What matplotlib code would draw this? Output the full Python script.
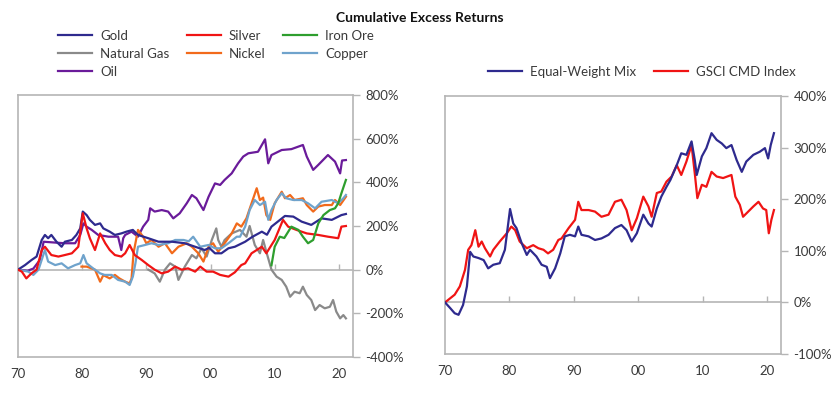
import matplotlib
matplotlib.use("Agg")
import matplotlib.pyplot as plt

# ---- data ----
gold_x = [1970.0, 1971.1, 1972.1, 1972.9, 1973.7, 1974.2, 1974.7, 1975.2, 1976.0, 1976.8, 1977.3, 1978.4,
          1979.1, 1979.7, 1980.1, 1980.7, 1981.2, 1982.0, 1982.8, 1983.3, 1984.3, 1985.1, 1986.1, 1987.0,
          1987.9, 1988.7, 1990.3, 1991.9, 1994.0, 1996.0, 1997.6, 1999.1, 1999.8, 2000.7, 2001.7, 2002.8,
          2003.8, 2005.4, 2006.5, 2008.0, 2008.8, 2009.5, 2011.6, 2012.9, 2014.2, 2015.7, 2017.3, 2018.9,
          2020.4, 2021.1]
gold_y = [0, 21, 44, 60, 136, 159, 144, 159, 128, 105, 128, 136,
          159, 189, 266, 250, 228, 205, 212, 189, 174, 159, 166, 175,
          182, 159, 144, 128, 128, 121, 105, 90, 100, 75, 75, 98,
          105, 128, 150, 174, 160, 197, 246, 243, 220, 205, 235, 228,
          250, 255]

silver_x = [1970.0, 1970.6, 1971.3, 1972.1, 1972.9, 1973.7, 1974.2, 1975.2, 1976.3, 1977.3, 1978.4, 1979.4,
            1980.1, 1980.7, 1981.2, 1982.0, 1982.8, 1983.6, 1984.3, 1985.1, 1986.1, 1986.7, 1987.4, 1988.2,
            1989.3, 1990.3, 1991.3, 1992.4, 1993.4, 1994.5, 1995.5, 1996.5, 1997.6, 1998.4, 1999.4, 2000.4,
            2001.5, 2002.8, 2003.8, 2004.8, 2005.4, 2006.4, 2008.0, 2008.7, 2010.0, 2011.3, 2012.1, 2013.4,
            2015.0, 2016.8, 2018.3, 2019.9, 2020.4, 2021.1]
silver_y = [0, -9, -40, -17, 0, 90, 105, 67, 60, 67, 75, 105,
            258, 189, 144, 90, 166, 121, 90, 67, 60, 75, 113, 67,
            44, 21, 0, -17, -9, 14, 0, 6, -9, 14, -9, -9,
            -24, -32, -12, 21, 29, 75, 105, 75, 136, 228, 197, 182,
            166, 159, 151, 144, 197, 200]

iron_x = [2009.5, 2010.0, 2010.8, 2011.5, 2012.6, 2013.7, 2014.4, 2015.2, 2016.0, 2016.8, 2017.6, 2018.6,
          2019.4, 2019.9, 2020.4, 2021.1]
iron_y = [20, 105, 151, 145, 197, 182, 151, 121, 136, 212, 250, 273,
          281, 304, 350, 411]

gas_x = [1990.3, 1991.3, 1992.1, 1992.9, 1993.7, 1994.5, 1995.0, 1996.0, 1997.1, 1997.8, 1998.6, 1999.4,
         2000.2, 2000.9, 2001.2, 2001.7, 2002.2, 2003.3, 2004.6, 2005.6, 2006.1, 2006.9, 2007.7, 2008.2,
         2008.7, 2009.5, 2010.3, 2011.1, 2011.8, 2012.4, 2013.1, 2013.9, 2014.4, 2015.0, 2015.7, 2016.3,
         2017.0, 2017.8, 2018.6, 2019.1, 2019.6, 2020.2, 2020.7, 2021.1]
gas_y = [0, -17, -55, 0, 29, 14, -47, 14, 67, 52, 98, 60,
         136, 189, 136, 105, 136, 166, 182, 151, 200, 113, 75, 136,
         82, 0, -32, -47, -78, -124, -101, -108, -78, -116, -139, -185,
         -162, -177, -170, -139, -192, -223, -208, -223]

nickel_x = [1979.9, 1980.7, 1982.0, 1982.8, 1983.3, 1984.3, 1985.1, 1985.8, 1986.7, 1987.4, 1987.7, 1988.0,
            1988.7, 1989.5, 1990.0, 1990.8, 1991.9, 1992.9, 1994.0, 1995.0, 1996.3, 1997.1, 1998.1, 1998.9,
            1999.7, 2000.4, 2001.2, 2002.2, 2003.3, 2004.1, 2004.8, 2005.6, 2006.4, 2007.2, 2007.7, 2008.2,
            2008.7, 2009.3, 2010.0, 2011.1, 2011.6, 2012.4, 2013.1, 2014.4, 2015.0, 2016.0, 2016.8, 2017.8,
            2018.9, 2019.4, 2020.2, 2021.1]
nickel_y = [14, 14, 0, -55, -25, -40, -24, -40, -55, -63, -40, 75,
            182, 151, 121, 136, 105, 121, 75, 105, 121, 105, 75, 37,
            105, 121, 82, 121, 166, 212, 197, 235, 304, 373, 319, 330,
            250, 228, 304, 357, 327, 342, 319, 327, 296, 266, 289, 296,
            296, 319, 296, 334]

copper_x = [1970.0, 1971.6, 1972.4, 1973.2, 1974.2, 1974.7, 1975.8, 1976.8, 1977.8, 1978.9, 1979.7, 1980.2,
            1980.7, 1981.7, 1982.8, 1983.5, 1984.6, 1985.6, 1986.7, 1987.4, 1987.9, 1988.3, 1988.7, 1989.8,
            1990.8, 1991.9, 1993.4, 1994.5, 1995.8, 1996.6, 1997.3, 1998.4, 1999.7, 2000.7, 2001.7, 2002.8,
            2004.1, 2004.6, 2005.4, 2006.1, 2006.9, 2007.7, 2008.5, 2009.0, 2009.5, 2010.3, 2011.1, 2011.8,
            2012.9, 2014.2, 2015.2, 2016.3, 2017.3, 2018.9, 2019.9, 2020.7, 2021.1]
copper_y = [0, -9, -24, 0, 90, 37, 21, 29, 6, 21, 29, 67,
            29, 6, -17, -24, -24, -47, -55, -70, -32, 29, 105, 113,
            121, 113, 121, 136, 136, 130, 151, 105, 113, 98, 98, 121,
            151, 151, 197, 273, 319, 296, 311, 228, 273, 319, 350, 327,
            319, 319, 304, 281, 311, 319, 304, 327, 342]

oil_x = [1970.0, 1971.5, 1972.4, 1973.4, 1974.0, 1975.8, 1977.3, 1978.9, 1979.7, 1980.2, 1980.7, 1981.5,
         1982.5, 1984.1, 1985.6, 1986.1, 1986.4, 1986.7, 1987.7, 1988.7, 1989.5, 1990.3, 1990.6, 1991.3,
         1992.4, 1993.4, 1994.2, 1995.2, 1996.3, 1997.1, 1997.8, 1998.9, 1999.7, 2000.7, 2001.5, 2002.2,
         2003.3, 2004.3, 2005.1, 2005.9, 2007.4, 2008.5, 2009.0, 2009.5, 2011.1, 2012.6, 2014.4, 2015.0,
         2016.0, 2016.8, 2018.3, 2019.4, 2020.2, 2020.5, 2021.1]
oil_y = [0, -5, 5, 44, 128, 124, 121, 121, 159, 212, 197, 182,
         159, 151, 151, 90, 144, 159, 174, 151, 197, 228, 281, 266,
         273, 266, 235, 258, 304, 342, 327, 273, 334, 395, 388, 411,
         441, 487, 518, 533, 540, 597, 487, 525, 548, 552, 571, 518,
         457, 480, 525, 495, 441, 500, 502]

ew_x = [1970.0, 1970.8, 1971.5, 1972.1, 1972.8, 1973.4, 1973.9, 1974.4, 1975.2, 1976.0, 1976.7, 1977.5,
        1978.5, 1979.3, 1980.1, 1980.6, 1981.1, 1981.9, 1982.7, 1983.2, 1984.2, 1985.0, 1985.8, 1986.3,
        1987.1, 1987.9, 1988.6, 1989.4, 1990.2, 1990.7, 1991.2, 1992.3, 1993.3, 1994.3, 1995.4, 1996.4,
        1997.4, 1998.2, 1999.0, 1999.8, 2000.8, 2001.6, 2002.1, 2002.9, 2003.6, 2004.4, 2005.0, 2006.0,
        2006.7, 2007.5, 2008.3, 2008.8, 2009.1, 2009.9, 2010.6, 2011.4, 2012.2, 2013.0, 2013.7, 2014.5,
        2015.3, 2016.1, 2016.8, 2017.9, 2018.9, 2019.7, 2020.2, 2020.6, 2021.1]
ew_y = [0, -11, -21, -24, -5, 31, 98, 89, 86, 82, 66, 73,
        76, 102, 181, 153, 144, 115, 92, 102, 89, 73, 69, 47,
        66, 95, 128, 131, 128, 147, 131, 128, 121, 124, 131, 144,
        150, 140, 118, 134, 170, 153, 147, 182, 205, 224, 237, 266,
        289, 286, 312, 276, 247, 283, 299, 328, 315, 308, 299, 305,
        276, 253, 273, 286, 292, 299, 279, 305, 328]

gsci_x = [1970.0, 1970.8, 1971.5, 1972.3, 1973.1, 1973.6, 1974.1, 1974.7, 1975.2, 1975.7, 1976.2, 1977.0,
          1977.5, 1978.5, 1979.6, 1980.3, 1980.9, 1981.6, 1982.7, 1983.7, 1984.5, 1985.3, 1986.0, 1986.8,
          1987.6, 1988.1, 1989.2, 1990.2, 1990.7, 1991.2, 1992.3, 1993.3, 1994.3, 1995.4, 1996.4, 1997.4,
          1998.2, 1999.0, 1999.8, 2000.8, 2001.6, 2002.1, 2002.9, 2003.6, 2004.4, 2005.2, 2006.0, 2006.7,
          2007.5, 2008.3, 2008.8, 2009.2, 2009.9, 2010.6, 2011.4, 2012.2, 2013.2, 2014.5, 2015.1, 2015.8,
          2016.3, 2017.1, 2017.9, 2018.7, 2019.4, 2019.9, 2020.3, 2020.7, 2021.1]
gsci_y = [0, 8, 15, 31, 63, 102, 111, 140, 108, 118, 105, 89,
          102, 118, 134, 147, 140, 118, 105, 111, 105, 102, 95, 102,
          121, 124, 144, 160, 195, 179, 179, 176, 166, 170, 195, 199,
          179, 140, 163, 205, 186, 166, 212, 215, 234, 244, 266, 247,
          273, 305, 250, 202, 228, 224, 253, 244, 241, 247, 205, 189,
          166, 176, 186, 195, 182, 179, 134, 160, 179]

decades = [1970, 1980, 1990, 2000, 2010, 2020]
decade_labels = ["70", "80", "90", "00", "10", "20"]
left_yticks = [-400, -200, 0, 200, 400, 600, 800]
right_yticks = [-100, 0, 100, 200, 300, 400]

NAVY = "#2e2a8e"
RED = "#f01414"
GRID = "#b5b5b5"
TXT = "#3a3a3a"

plt.rcParams["font.family"] = ["Lato", "DejaVu Sans"]


def style_axis(ax, ylim, yticks, zero_pos):
    ax.set_xlim(1970, 2022.2)
    ax.set_ylim(*ylim)
    for sp in ax.spines.values():
        sp.set_color(GRID)
        sp.set_linewidth(1.2)
    ax.yaxis.tick_right()
    ax.set_yticks(yticks)
    ax.set_yticklabels([f"{t}%" for t in yticks])
    ax.tick_params(axis="y", direction="out", length=5, width=1, color=GRID,
                   labelsize=9.5, labelcolor=TXT, pad=4)
    ax.set_xticks(decades)
    ax.set_xticklabels(decade_labels)
    ax.tick_params(axis="x", length=0, labelsize=9.5, labelcolor=TXT, pad=8)
    # zero line with the decade ticks
    sec = ax.secondary_xaxis(zero_pos)
    sec.set_xticks(decades[1:])
    sec.tick_params(axis="x", direction="in", length=4, width=1, color=GRID,
                    labelbottom=False, labeltop=False)
    sec.spines["bottom"].set_color(GRID)
    sec.spines["bottom"].set_linewidth(1.2)
    sec.spines["top"].set_visible(False)


fig = plt.figure(figsize=(8.4, 3.93), dpi=100)
ax1 = fig.add_axes([0.0214, 0.0916, 0.3988, 0.6667])
ax2 = fig.add_axes([0.5298, 0.0992, 0.4000, 0.6565])

lw = 1.6
ax1.plot(gold_x, gold_y, color=NAVY, lw=lw, label="Gold", zorder=4)
ax1.plot(gas_x, gas_y, color="#8a8a8a", lw=lw, label="Natural Gas", zorder=3)
ax1.plot(oil_x, oil_y, color="#6a1b9a", lw=lw, label="Oil", zorder=3)
ax1.plot(silver_x, silver_y, color=RED, lw=lw, label="Silver", zorder=4)
ax1.plot(nickel_x, nickel_y, color="#f26a1b", lw=lw, label="Nickel", zorder=3)
ax1.plot(iron_x, iron_y, color="#2e9e2e", lw=lw, label="Iron Ore", zorder=4)
ax1.plot(copper_x, copper_y, color="#6fa3cc", lw=lw, label="Copper", zorder=3)
style_axis(ax1, (-400, 800), left_yticks, 400 / 1200)

ax2.plot(ew_x, ew_y, color=NAVY, lw=lw, label="Equal-Weight Mix", zorder=4)
ax2.plot(gsci_x, gsci_y, color=RED, lw=lw, label="GSCI CMD Index", zorder=3)
style_axis(ax2, (-100, 400), right_yticks, 100 / 500)

leg_kw = dict(frameon=False, fontsize=9.5, handlelength=2.6, handletextpad=0.6,
              columnspacing=1.3, labelspacing=0.45, borderpad=0, borderaxespad=0,
              labelcolor=TXT)
fig.legend(*ax1.get_legend_handles_labels(), ncol=3, loc="upper left",
           bbox_to_anchor=(58 / 840, 1 - 30 / 393), **leg_kw)
fig.legend(*ax2.get_legend_handles_labels(), ncol=2, loc="upper left",
           bbox_to_anchor=(488 / 840, 1 - 66 / 393), **leg_kw)

fig.text(0.5, 1 - 18 / 393, "Cumulative Excess Returns", ha="center", va="center",
         fontsize=10, fontweight="bold", color="#111111")

fig.savefig("out.png", dpi=100)
